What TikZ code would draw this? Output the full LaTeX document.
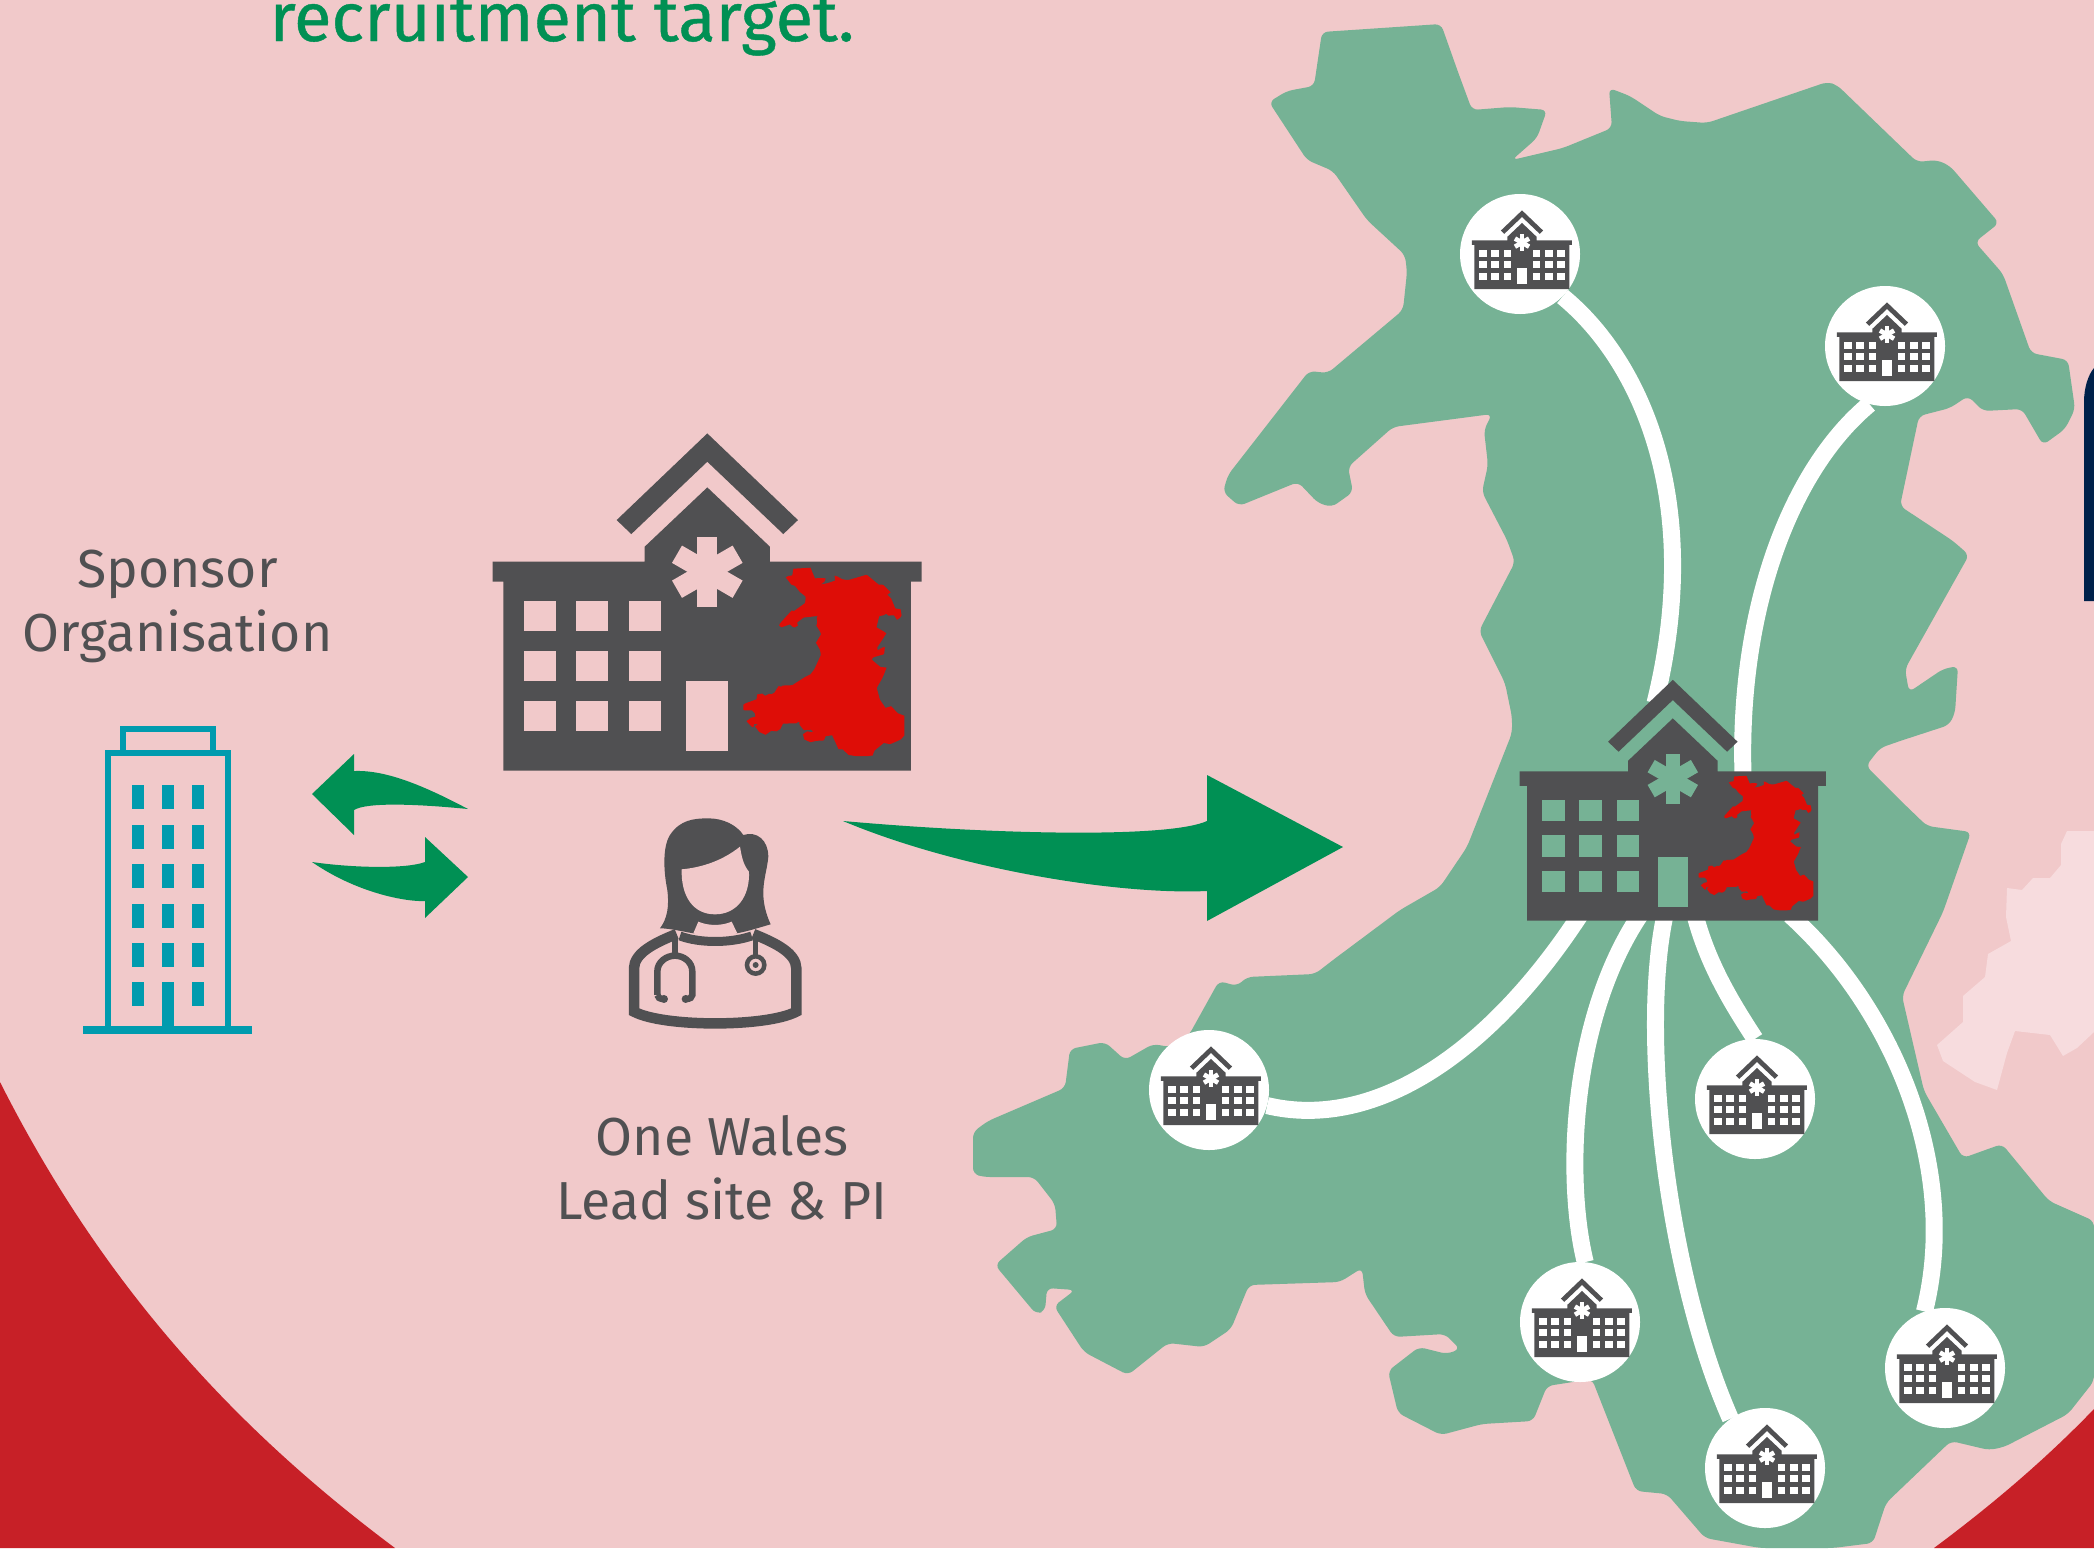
\documentclass[tikz,border=0pt]{standalone}
\usepackage{fontspec}
\setmainfont{Fira Sans}
\newfontfamily\headfont[FakeBold=0.6]{Fira Sans}
\definecolor{bgpink}{HTML}{F1C9CA}
\definecolor{deepred}{HTML}{C72027}
\definecolor{mapgreen}{HTML}{76B295}
\definecolor{iconGrey}{HTML}{505052}
\definecolor{arrowgreen}{HTML}{009054}
\definecolor{towerteal}{HTML}{009BAE}
\definecolor{walesred}{HTML}{DE0D07}
\definecolor{paleland}{HTML}{F7DCDE}
\definecolor{inkblue}{HTML}{00214A}
\newcommand{\walesoutline}{(1322,32) -- (1441,24) -- (1458,72) -- (1472,110) -- (1510,107) -- (1547,110) -- (1537,138) -- (1512,160) -- (1563,148) -- (1612,128) -- (1609,88) -- (1630,96) -- (1660,116) -- (1680,121) -- (1707,123) -- (1827,82) -- (1837,85) -- (1917,162) -- (1937,160) -- (1950,166) -- (1999,223) -- (1975,242) -- (2003,274) -- (2031,353) -- (2068,360) -- (2075,409) -- (2065,429) -- (2043,445) -- (2022,409) -- (1983,411) -- (1968,396) -- (1950,408) -- (1919,416) -- (1900,506) -- (1953,541) -- (1969,555) -- (1905,669) -- (1909,692) -- (1943,669) -- (1958,666) -- (1955,713) -- (1949,725) -- (1900,741) -- (1880,748) -- (1866,766) -- (1900,800) -- (1927,826) -- (1971,832) -- (1943,912) -- (1902,996) -- (1924,1091) -- (1963,1158) -- (2002,1144) -- (2049,1201) -- (2094,1221) -- (2094,1381) -- (2068,1414) -- (2004,1447) -- (1989,1450) -- (1951,1441) -- (1886,1503) -- (1873,1543) -- (1833,1548) -- (1760,1548) -- (1705,1538) -- (1667,1494) -- (1636,1491) -- (1592,1379) -- (1547,1386) -- (1533,1421) -- (1482,1424) -- (1441,1435) -- (1398,1413) -- (1388,1371) -- (1419,1347) -- (1447,1354) -- (1460,1349) -- (1445,1334) -- (1394,1337) -- (1365,1294) -- (1362,1268) -- (1340,1282) -- (1249,1285) -- (1231,1329) -- (1204,1347) -- (1168,1343) -- (1128,1375) -- (1084,1352) -- (1054,1306) -- (1075,1290) -- (1047,1288) -- (1045,1311) -- (1036,1314) -- (995,1265) -- (1027,1237) -- (1057,1229) -- (1055,1204) -- (1034,1177) -- (984,1177) -- (973,1174) -- (973,1132) -- (988,1121) -- (1065,1088) -- (1070,1049) -- (1105,1042) -- (1125,1060) -- (1153,1044) -- (1170,1047) -- (1189,1035) -- (1219,981) -- (1237,986) -- (1247,977) -- (1315,974) -- (1333,960) -- (1400,910) -- (1440,887) -- (1467,847) -- (1512,733) -- (1512,717) -- (1505,683) -- (1479,631) -- (1515,562) -- (1507,540) -- (1482,492) -- (1488,465) -- (1484,430) -- (1492,414) -- (1393,427) -- (1348,467) -- (1353,492) -- (1332,507) -- (1318,503) -- (1298,482) -- (1239,506) -- (1223,492) -- (1228,475) -- (1309,371) -- (1328,373) -- (1403,310) -- (1407,272) -- (1405,255) -- (1367,220) -- (1333,171) -- (1307,160) -- (1269,102) -- (1287,91) -- (1314,86) -- cycle}
\tikzset{
  bodytext/.style={text=iconGrey,align=center,inner sep=0pt,font=\fontsize{53.5}{64}\selectfont},
  sitedisc/.style={circle,fill=white,inner sep=0pt,minimum size=120pt},
  linkline/.style={draw=white,line width=17pt},
  pics/hospital/.style={code={
    \fill[iconGrey] (-272,-752) -- (0,-1012) -- (272,-752) -- (228,-710) -- (0,-927) -- (-228,-710) -- cycle;
    \fill[iconGrey] (-612,0) -- (-612,-567) -- (-644,-567) -- (-644,-627) -- (-188,-627) -- (-188,-672) -- (0,-850) -- (188,-672) -- (188,-627) -- (643,-627) -- (643,-567) -- (611,-567) -- (611,0) -- cycle;
    \foreach \wx in {-550,-393,-235} \foreach \wy in {-508,-359,-209} \fill[#1] (\wx,\wy) rectangle ++(95,90);
    \fill[#1] (-63,-269) rectangle (63,-59);
    \foreach \ang in {0,60,120} \fill[#1,rotate around={\ang:(0,-597)}] (-30,-702) rectangle (30,-492);
  }},
  pics/rightwing/.style={code={
    \foreach \wx in {140,298,455} \foreach \wy in {-508,-359,-209} \fill[#1] (\wx,\wy) rectangle ++(95,90);
  }},
  pics/walesmini/.style={code={
    \fill[walesred,shift={(-311.4,-617.9)},xscale=.431,yscale=.371] \walesoutline;
  }}
}
\begin{document}
\begin{tikzpicture}[x=1pt,y=-1pt]
  \useasboundingbox (0,0) rectangle (2094,1548);
  \fill[bgpink] (0,0) rectangle (2094,1548);
  \fill[deepred] (0,1082) .. controls (100,1280) and (230,1425) .. (395,1548) -- (0,1548) -- cycle;
  \fill[deepred] (2094,1409) .. controls (2040,1465) and (1985,1510) .. (1934,1548) -- (2094,1548) -- cycle;
  \fill[inkblue] (2094,368) .. controls (2088,375) and (2084,388) .. (2084,402) -- (2084,601) -- (2094,601) -- cycle;
  \fill[paleland] (2094,831) -- (2067,831) -- (2061,844) -- (2061,865) -- (2050,878) -- (2033,878) -- (2022,890) -- (2007,888) -- (2006,917) -- (2011,941) -- (1988,954) -- (1985,977) -- (1963,996) -- (1963,1022) -- (1937,1045) -- (1943,1061) -- (1975,1082) -- (1997,1090) -- (2007,1053) -- (2015,1031) -- (2050,1035) -- (2063,1056) -- (2077,1048) -- (2094,1032) -- cycle;
  \fill[mapgreen,rounded corners=6pt] \walesoutline;

  \node[bodytext,anchor=base,font=\headfont\fontsize{68.6}{64}\selectfont,text=arrowgreen] (headline) at (562,41) {recruitment target.};

  \node[sitedisc] (siteNW) at (1520,254) {};
  \node[sitedisc] (siteNE) at (1885,346) {};
  \node[sitedisc] (siteW) at (1209,1090) {};
  \node[sitedisc] (siteMid) at (1755,1099) {};
  \node[sitedisc] (siteSW) at (1580,1322) {};
  \node[sitedisc] (siteSE) at (1945,1368) {};
  \node[sitedisc] (siteS) at (1765,1468) {};
  \coordinate (hubA) at (1655,703);
  \coordinate (hubB) at (1743,775);
  \coordinate (hubC) at (1580,915);
  \coordinate (hubD) at (1640,915);
  \coordinate (hubE) at (1665,915);
  \coordinate (hubF) at (1695,915);
  \coordinate (hubG) at (1790,915);
  \draw[linkline] (siteNW.-45) .. controls (1640,360) and (1705,500) .. (hubA);
  \draw[linkline] (siteNE.-105) .. controls (1790,470) and (1738,610) .. (hubB);
  \draw[linkline] (siteW.-15) .. controls (1370,1130) and (1485,1060) .. (hubC);
  \draw[linkline] (siteSW.85) .. controls (1565,1180) and (1570,1020) .. (hubD);
  \draw[linkline] (siteS.125) .. controls (1665,1270) and (1640,1030) .. (hubE);
  \draw[linkline] (siteMid.north) .. controls (1733,1005) and (1708,965) .. (hubF);
  \draw[linkline] (siteSE.110) .. controls (1960,1170) and (1895,1010) .. (hubG);
  \pic[scale=.0777] at (1522,289) {hospital=white};
  \pic[scale=.0777] at (1522,289) {rightwing=white};
  \pic[scale=.0777] at (1887,381) {hospital=white};
  \pic[scale=.0777] at (1887,381) {rightwing=white};
  \pic[scale=.0777] at (1211,1125) {hospital=white};
  \pic[scale=.0777] at (1211,1125) {rightwing=white};
  \pic[scale=.0777] at (1757,1134) {hospital=white};
  \pic[scale=.0777] at (1757,1134) {rightwing=white};
  \pic[scale=.0777] at (1582,1357) {hospital=white};
  \pic[scale=.0777] at (1582,1357) {rightwing=white};
  \pic[scale=.0777] at (1947,1403) {hospital=white};
  \pic[scale=.0777] at (1947,1403) {rightwing=white};
  \pic[scale=.0777] at (1767,1503) {hospital=white};
  \pic[scale=.0777] at (1767,1503) {rightwing=white};

  \pic[scale=.238] at (1672.8,920.7) {hospital=mapgreen};
  \pic[scale=.238] at (1672.8,920.7) {walesmini};
  \pic[scale=.3333] at (707.3,770.7) {hospital=bgpink};
  \pic[scale=.3333] at (707.3,770.7) {walesmini};

  \fill[arrowgreen] (843,821) .. controls (1000,835) and (1170,838) .. (1207,821) -- (1207,775) -- (1343,847) -- (1207,921) -- (1207,891) .. controls (1120,895) and (960,870) .. (843,821) -- cycle;
  \fill[arrowgreen] (312,794) -- (354,754) -- (354,771) .. controls (383,770) and (417,782) .. (468,809) .. controls (417,804) and (367,802) .. (354,810) -- (354,835) -- cycle;
  \fill[arrowgreen] (468,877) -- (425,837) -- (425,862) .. controls (407,869) and (353,868) .. (312,862) .. controls (360,895) and (410,902) .. (425,901) -- (425,918) -- cycle;

  \draw[towerteal,line width=5.6pt] (123,751) -- (123,729) -- (213,729) -- (213,751);
  \draw[towerteal,line width=5.8pt] (108,753) rectangle (228,1030);
  \fill[towerteal] (83,1026) rectangle (252,1034);
  \fill[towerteal] (162,982) rectangle (174,1026);
  \foreach \cx in {132,162,192} \foreach \ry in {785,825,864,904,943} \fill[towerteal] (\cx,\ry) rectangle ++(12,24);
  \fill[towerteal] (132,982) rectangle ++(12,24);
  \fill[towerteal] (192,982) rectangle ++(12,24);

  \begin{scope}[shift={(580,790)},scale=.3333]
    \fill[iconGrey] (240,415) .. controls (262,385) and (268,350) .. (262,300) .. controls (250,240) and (248,170) .. (270,135) .. controls (300,90) and (340,85) .. (385,85) .. controls (430,85) and (470,105) .. (490,135) .. controls (530,122) and (565,150) .. (565,200) .. controls (560,260) and (530,310) .. (572,403) .. controls (540,412) and (500,425) .. (470,430) -- (340,430) .. controls (310,425) and (270,415) .. (240,415) -- cycle;
    \fill[bgpink] (305,238) .. controls (370,232) and (430,210) .. (480,170) .. controls (485,200) and (490,225) .. (507,245) .. controls (510,320) and (470,373) .. (405,373) .. controls (340,373) and (303,320) .. (305,238) -- cycle;
    \fill[bgpink] (355,395) .. controls (385,408) and (425,408) .. (455,395) -- (472,430) .. controls (430,442) and (380,442) .. (340,430) -- cycle;
    \draw[iconGrey,line width=10.5pt] (290,432) .. controls (220,460) and (163,490) .. (162,535) -- (162,665) .. controls (250,712) and (560,712) .. (649,665) -- (649,535) .. controls (648,490) and (590,460) .. (520,432);
    \draw[iconGrey,line width=9pt] (300,438) .. controls (360,460) and (450,460) .. (515,438);
    \draw[iconGrey,line width=5.5pt] (285,445) -- (285,495);
    \draw[iconGrey,line width=6.5pt] (232,615) -- (232,545) .. controls (232,515) and (260,497) .. (285,497) .. controls (310,497) and (337,515) .. (337,545) -- (337,615) .. controls (337,622) and (330,627) .. (318,627);
    \draw[iconGrey,line width=6.5pt] (232,615) .. controls (232,622) and (240,627) .. (250,627);
    \fill[iconGrey] (252,627) circle (12);
    \fill[iconGrey] (317,627) circle (12);
    \draw[iconGrey,line width=5.5pt] (527,445) -- (527,500);
    \draw[iconGrey,line width=4.5pt] (527,525) circle (26);
    \fill[iconGrey] (527,525) circle (9);
  \end{scope}

  \node[bodytext] (sponsorlabel) at (177.5,606) {Sponsor\\Organisation};
  \node[bodytext] (leadlabel) at (722,1168) {One Wales\\Lead site \& PI};
\end{tikzpicture}
\end{document}
